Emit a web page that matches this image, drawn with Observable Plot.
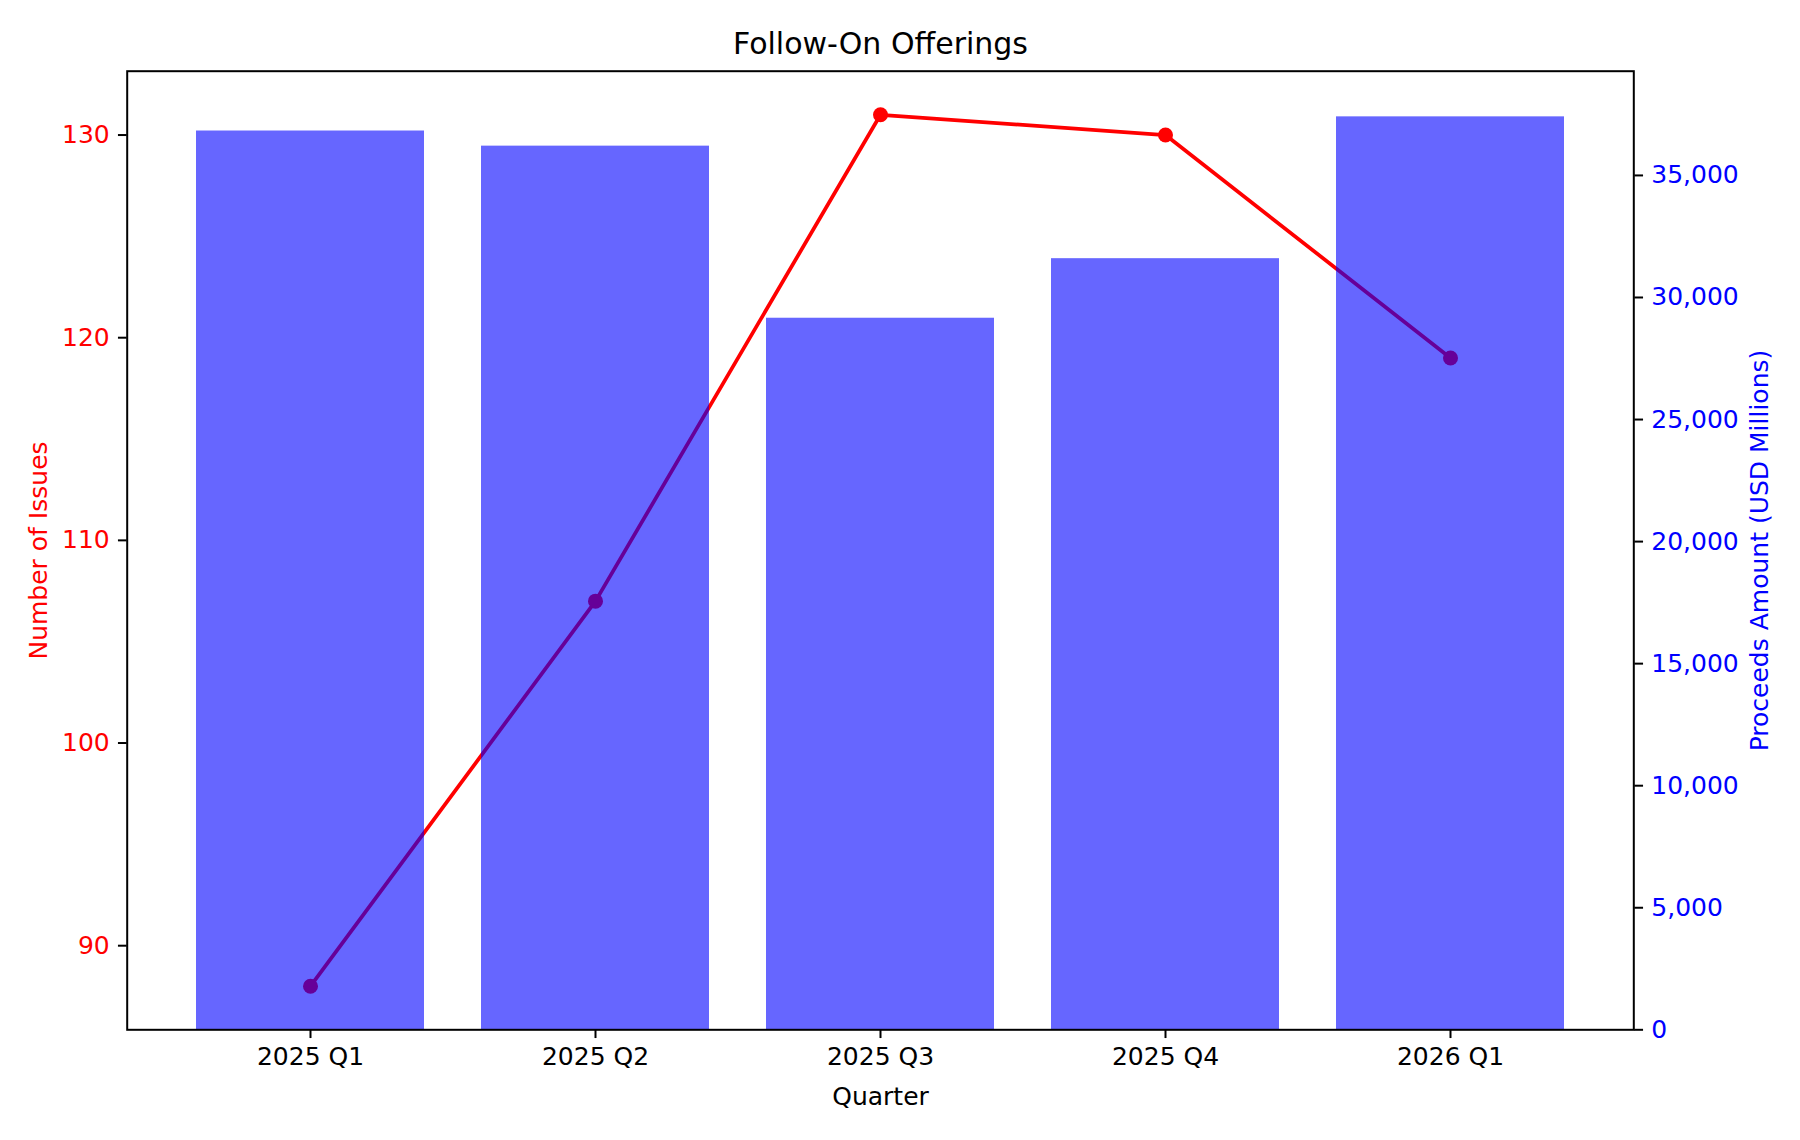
<!DOCTYPE html>
<html><head><meta charset="utf-8">
<script src="https://cdn.jsdelivr.net/npm/d3@7"></script>
<script src="https://cdn.jsdelivr.net/npm/@observablehq/plot@0.6"></script>
<style>
body{margin:0;background:#fff}
#chart{position:relative;width:1800px;height:1140px}
#chart svg{position:absolute;left:0;top:0}
</style>
</head><body><div id="chart"></div>
<script>
const quarters = ["2025 Q1", "2025 Q2", "2025 Q3", "2025 Q4", "2026 Q1"];
const issues = [88, 107, 131, 130, 119];
const proceeds = [36820, 36200, 29150, 31590, 37400];
const issueTicks = [90, 100, 110, 120, 130];
const proceedsTicks = [0, 5000, 10000, 15000, 20000, 25000, 30000, 35000];
const titleText = "Follow-On Offerings";
const xLabel = "Quarter";
const leftLabel = "Number of Issues";
const rightLabel = "Proceeds Amount (USD Millions)";

const rows = quarters.map((q, i) => ({quarter: q, issues: issues[i], proceeds: proceeds[i]}));

const W = 1800, H = 1140;
const margins = {marginTop: 70.7, marginBottom: 110.7, marginLeft: 126.7, marginRight: 166.7};
const font = {fontFamily: "DejaVu Sans", fontSize: "25px", overflow: "visible"};
const xScale = {type: "band", domain: quarters, paddingInner: 0.2, paddingOuter: 0.24, align: 0.5};

const iMin = d3.min(issues), iMax = d3.max(issues), iPad = (iMax - iMin) * 0.05;
const pMax = d3.max(proceeds) * 1.05;

const tick = 8.75;

const back = Plot.plot({
  width: W, height: H, ...margins,
  style: {...font, background: "white"},
  x: {...xScale, axis: null},
  y: {domain: [iMin - iPad, iMax + iPad]},
  marks: [
    Plot.axisY({anchor: "left", ticks: issueTicks, tickSize: tick, tickPadding: tick, stroke: "black", strokeWidth: 2, fill: "red", label: null, fontSize: 25}),
    Plot.line(rows, {x: "quarter", y: "issues", stroke: "red", strokeWidth: 3.75}),
    Plot.dot(rows, {x: "quarter", y: "issues", fill: "red", r: 7.5}),
    Plot.text([leftLabel], {frameAnchor: "left", dx: -88.7, rotate: -90, fill: "red", fontSize: 25, textAnchor: "middle", lineAnchor: "middle"})
  ]
});

const front = Plot.plot({
  width: W, height: H, ...margins,
  style: {...font, background: "transparent"},
  x: xScale,
  y: {domain: [0, pMax]},
  marks: [
    Plot.barY(rows, {x: "quarter", y: "proceeds", fill: "#0000ff", fillOpacity: 0.6}),
    Plot.axisY({anchor: "right", ticks: proceedsTicks, tickFormat: d3.format(","), tickSize: tick, tickPadding: tick, stroke: "black", strokeWidth: 2, fill: "#0000ff", label: null, fontSize: 25}),
    Plot.axisX({anchor: "bottom", tickSize: tick, tickPadding: tick, stroke: "black", strokeWidth: 2, fill: "black", label: null, fontSize: 25}),
    Plot.frame({stroke: "black", strokeWidth: 2}),
    Plot.text([rightLabel], {frameAnchor: "right", dx: 125.7, rotate: -90, fill: "#0000ff", fontSize: 25, textAnchor: "middle", lineAnchor: "middle"}),
    Plot.text([xLabel], {frameAnchor: "bottom", dy: 67, fill: "black", fontSize: 25, textAnchor: "middle", lineAnchor: "middle"}),
    Plot.text([titleText], {frameAnchor: "top", dy: -27, fill: "black", fontSize: 30, textAnchor: "middle", lineAnchor: "middle"})
  ]
});

const chart = document.getElementById("chart");
chart.appendChild(back);
chart.appendChild(front);
</script>
</body></html>
